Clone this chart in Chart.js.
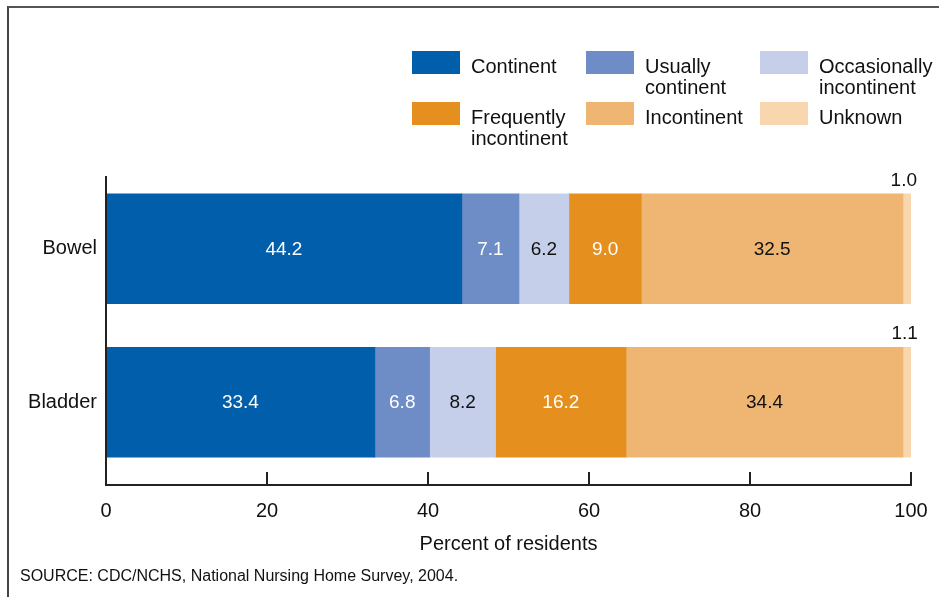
<!DOCTYPE html>
<html>
<head>
<meta charset="utf-8">
<script src="https://cdn.jsdelivr.net/npm/chart.js@4/dist/chart.umd.min.js"></script>
<style>
  html, body { margin: 0; padding: 0; background: #fff; }
  body { width: 939px; height: 597px; position: relative; overflow: hidden;
         font-family: 'Liberation Sans', Arial, Helvetica, sans-serif; }
  #frame { position: absolute; left: 7px; top: 6px; width: 960px; height: 620px;
           border-top: 2px solid #555; border-left: 2px solid #444; }
  #wrap { position: absolute; left: 0; top: 0; width: 939px; height: 597px; }
  .sw { position: absolute; width: 48px; height: 23px; }
  .lt { position: absolute; font-size: 20px; line-height: 21px; color: #111; white-space: pre-line; }
  #source { position: absolute; left: 20px; top: 567px; font-size: 16px; color: #111; }
</style>
</head>
<body>
<div id="frame"></div>
<div id="wrap"><canvas id="incChart" width="939" height="597"></canvas></div>
<div id="legend"></div>
<div id="source">SOURCE: CDC/NCHS, National Nursing Home Survey, 2004.</div>
<script>
// 범주 / 시리즈 데이터
const categories = ['Bowel', 'Bladder'];
const seriesNames = ['Continent', 'Usually\ncontinent', 'Occasionally\nincontinent',
                     'Frequently\nincontinent', 'Incontinent', 'Unknown'];
const continent    = [44.2, 33.4];
const usually      = [7.1, 6.8];
const occasionally = [6.2, 8.2];
const frequently   = [9.0, 16.2];
const incontinent  = [32.5, 34.4];
const unknown      = [1.0, 1.1];
const xTicks = [0, 20, 40, 60, 80, 100];

const seriesValues = [continent, usually, occasionally, frequently, incontinent, unknown];
const colors = ['#005eab', '#6e8dc6', '#c5cfea', '#e5901e', '#efb572', '#f8d6ae'];
const labelColors = ['#fff', '#fff', '#111', '#fff', '#111', '#111'];
const FONT = "'Liberation Sans', Arial, Helvetica, sans-serif";

// 범례 (3열 그리드)
const legend = document.getElementById('legend');
seriesNames.forEach((name, i) => {
  const col = i % 3, row = Math.floor(i / 3);
  const sw = document.createElement('div');
  sw.className = 'sw';
  sw.style.left = (412 + col * 174) + 'px';
  sw.style.top = (51 + row * 51) + 'px';
  sw.style.background = colors[i];
  legend.appendChild(sw);
  const t = document.createElement('div');
  t.className = 'lt';
  t.style.left = (471 + col * 174) + 'px';
  t.style.top = (56 + row * 51) + 'px';
  t.textContent = name;
  legend.appendChild(t);
});

// 축선과 눈금 그리기
const axesPlugin = {
  id: 'axes',
  afterDatasetsDraw(chart) {
    const { ctx, chartArea, scales } = chart;
    const axisY = chartArea.bottom + 6;
    ctx.save();
    ctx.strokeStyle = '#222';
    ctx.lineWidth = 2;
    ctx.beginPath();
    ctx.moveTo(chartArea.left, chartArea.top + 4);
    ctx.lineTo(chartArea.left, axisY);
    ctx.lineTo(scales.x.getPixelForValue(100) + 1, axisY);
    xTicks.forEach(v => {
      const x = scales.x.getPixelForValue(v);
      ctx.moveTo(x, axisY);
      ctx.lineTo(x, axisY - 13);
    });
    ctx.stroke();
    ctx.restore();
  }
};

// 막대 값 레이블
const valuePlugin = {
  id: 'values',
  afterDatasetsDraw(chart) {
    const { ctx } = chart;
    ctx.save();
    ctx.font = '19px ' + FONT;
    chart.data.datasets.forEach((ds, di) => {
      const meta = chart.getDatasetMeta(di);
      meta.data.forEach((bar, i) => {
        const txt = ds.data[i].toFixed(1);
        ctx.fillStyle = labelColors[di];
        ctx.textBaseline = 'middle';
        if (di === 5) {
          ctx.textAlign = 'right';
          ctx.fillText(txt, bar.x + 6, bar.y - bar.height / 2 - 13);
        } else {
          ctx.textAlign = 'center';
          ctx.fillText(txt, (bar.x + bar.base) / 2, bar.y + 1);
        }
      });
    });
    ctx.restore();
  }
};

new Chart(document.getElementById('incChart'), {
  type: 'bar',
  data: {
    labels: categories,
    datasets: seriesNames.map((name, i) => ({
      label: name,
      data: seriesValues[i],
      backgroundColor: colors[i],
      borderWidth: 0,
      barThickness: 110
    }))
  },
  options: {
    indexAxis: 'y',
    responsive: false,
    animation: false,
    layout: { padding: { left: 0, right: 28, top: 172, bottom: 30 } },
    plugins: { legend: { display: false }, tooltip: { enabled: false } },
    scales: {
      x: {
        stacked: true,
        min: 0,
        max: 100,
        afterBuildTicks: s => { s.ticks = xTicks.map(v => ({ value: v })); },
        afterFit: s => { s.height = 88; s.paddingLeft = 0; s.paddingRight = 0; },
        grid: { display: false, drawTicks: false },
        border: { display: false },
        ticks: { font: { size: 20, family: FONT }, color: '#111', padding: 20, maxRotation: 0 },
        title: {
          display: true,
          text: 'Percent of residents',
          font: { size: 20, family: FONT },
          color: '#111',
          padding: { top: 0, bottom: 11 }
        }
      },
      y: {
        stacked: true,
        afterFit: s => { s.width = 106; },
        grid: { display: false, drawTicks: false },
        border: { display: false },
        ticks: { font: { size: 20, family: FONT }, color: '#111', padding: 9 }
      }
    }
  },
  plugins: [axesPlugin, valuePlugin]
});
</script>
</body>
</html>
